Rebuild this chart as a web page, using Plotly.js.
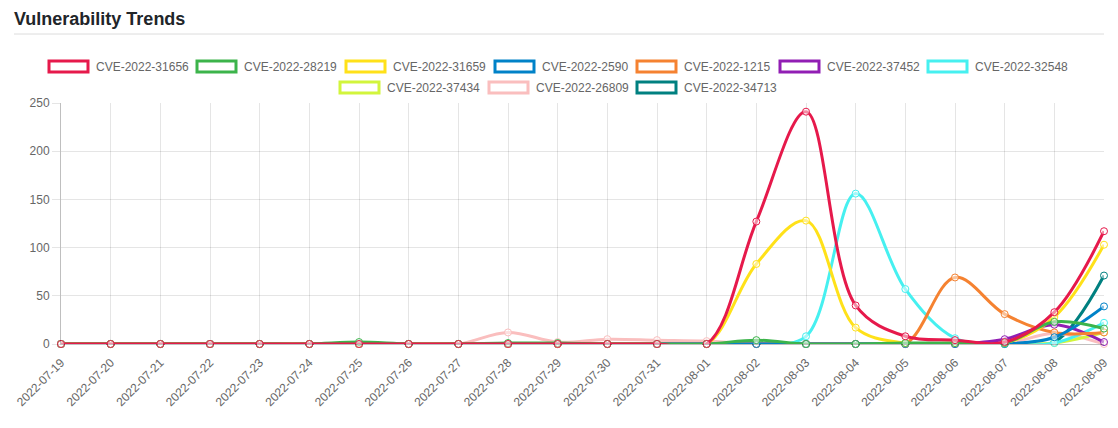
<!DOCTYPE html>
<html>
<head>
<meta charset="utf-8">
<script src="https://cdn.plot.ly/plotly-3.0.1.min.js"></script>
<style>html,body{margin:0;padding:0;background:#fff;}#chart{width:1118px;height:428px;}</style>
</head>
<body>
<div id="chart"></div>
<script>
const dates = ["2022-07-19","2022-07-20","2022-07-21","2022-07-22","2022-07-23","2022-07-24","2022-07-25","2022-07-26","2022-07-27","2022-07-28","2022-07-29","2022-07-30","2022-07-31","2022-08-01","2022-08-02","2022-08-03","2022-08-04","2022-08-05","2022-08-06","2022-08-07","2022-08-08","2022-08-09"];
const seriesNames = ["CVE-2022-31656","CVE-2022-28219","CVE-2022-31659","CVE-2022-2590","CVE-2022-1215","CVE-2022-37452","CVE-2022-32548","CVE-2022-37434","CVE-2022-26809","CVE-2022-34713"];
const seriesColors = ["#e6194b","#3cb44b","#ffe119","#0082c8","#f58231","#911eb4","#46f0f0","#d2f53c","#fabebe","#008080"];
const cve_2022_31656 = [0,0,0,0,0,0,0,0,0,0,0,0,0,0,127,241,40,8,4,2,33,117];
const cve_2022_28219 = [0,0,0,0,0,0,2,0,0,1,1,0,0,0,4,0,0,1,1,1,23,16];
const cve_2022_31659 = [0,0,0,0,0,0,0,0,0,0,0,0,0,0,83,128,17,1,1,1,28,103];
const cve_2022_2590  = [0,0,0,0,0,0,0,0,0,0,0,0,0,0,0,0,0,0,0,0,7,39];
const cve_2022_1215  = [0,0,0,0,0,0,0,0,0,0,0,0,0,0,0,0,0,0,69,31,12,12];
const cve_2022_37452 = [0,0,0,0,0,0,0,0,0,0,0,0,0,0,0,0,0,0,0,5,20,2];
const cve_2022_32548 = [0,0,0,0,0,0,0,0,0,0,0,0,0,0,0,8,156,57,6,0,1,22];
const cve_2022_37434 = [0,0,0,0,0,0,0,0,0,0,0,0,0,0,0,0,0,0,0,0,1,12];
const cve_2022_26809 = [0,0,0,0,0,0,0,0,0,12,2,5,4,3,0,0,0,0,0,0,11,0];
const cve_2022_34713 = [0,0,0,0,0,0,0,0,0,0,0,0,0,0,0,0,0,0,0,0,2,71];
const seriesValues = [cve_2022_31656,cve_2022_28219,cve_2022_31659,cve_2022_2590,cve_2022_1215,cve_2022_37452,cve_2022_32548,cve_2022_37434,cve_2022_26809,cve_2022_34713];
const yTicks = [0,50,100,150,200,250];

// plot-area geometry in pixels
const W = 1118, H = 428, L = 61, R = 1104, T = 103, B = 344;
const px = x => (x - L) / (R - L);
const py = y => (B - y) / (B - T);

const FONT = "Liberation Sans, Arial, Helvetica, sans-serif";

const traces = [];
for (let i = seriesNames.length - 1; i >= 0; i--) {
  traces.push({
    type: "scatter", mode: "lines+markers",
    name: seriesNames[i], x: dates, y: seriesValues[i],
    line: {color: seriesColors[i], width: 3, shape: "spline", smoothing: 1},
    marker: {symbol: "circle", size: 7, color: "rgba(255,255,255,0.5)", line: {color: seriesColors[i], width: 1}},
    cliponaxis: false, showlegend: false,
    hoverinfo: "x+y+name"
  });
}

// manual legend (Chart.js style boxes)
const legendPos = [
  [48,1],[196,1],[345,1],[494,1],[636,1],[779,1],[927,1],
  [339,2],[488,2],[636,2]
];
const shapes = [{
  type: "line", xref: "paper", yref: "paper",
  x0: px(14), x1: px(1104), y0: py(34), y1: py(34),
  line: {color: "#dcdcdc", width: 1}
}];
const annotations = [];
seriesNames.forEach((n, i) => {
  const [bx, row] = legendPos[i];
  const top = row === 1 ? 60 : 81;
  shapes.push({
    type: "rect", xref: "paper", yref: "paper",
    x0: px(bx + 1), x1: px(bx + 40), y0: py(top + 1), y1: py(top + 12),
    line: {color: seriesColors[i], width: 3}, fillcolor: "#ffffff"
  });
  annotations.push({
    xref: "paper", yref: "paper", x: px(bx + 46), y: py(top + 6.5),
    xanchor: "left", yanchor: "middle", showarrow: false,
    text: n, font: {family: FONT, size: 12, color: "#666666"}
  });
});

const layout = {
  width: W, height: H,
  margin: {l: L, r: W - R, t: T, b: H - B, pad: 0},
  paper_bgcolor: "#ffffff", plot_bgcolor: "#ffffff",
  showlegend: false,
  title: {
    text: "<b>Vulnerability Trends</b>", xref: "container", yref: "container",
    x: 14 / W, xanchor: "left", y: 1 - 19 / H, yanchor: "middle",
    font: {family: FONT, size: 18, color: "#212529"}
  },
  xaxis: {
    type: "category", range: [0, dates.length - 1],
    tickangle: -45, tickfont: {family: FONT, size: 12, color: "#666666"},
    showgrid: true, gridcolor: "rgba(0,0,0,0.1)", gridwidth: 1,
    ticks: "outside", ticklen: 6, tickcolor: "rgba(0,0,0,0)",
    showline: true, linecolor: "rgba(0,0,0,0.25)", linewidth: 1,
    zeroline: false, fixedrange: true
  },
  yaxis: {
    range: [0, 250], tickvals: yTicks, ticktext: yTicks.map(String),
    tickfont: {family: FONT, size: 12, color: "#666666"},
    showgrid: true, gridcolor: "rgba(0,0,0,0.1)", gridwidth: 1,
    ticks: "outside", ticklen: 8, tickcolor: "rgba(0,0,0,0.1)",
    showline: true, linecolor: "rgba(0,0,0,0.25)", linewidth: 1,
    zeroline: false, fixedrange: true
  },
  shapes: shapes,
  annotations: annotations
};

Plotly.newPlot("chart", traces, layout, {displayModeBar: false, staticPlot: true});
</script>
</body>
</html>
